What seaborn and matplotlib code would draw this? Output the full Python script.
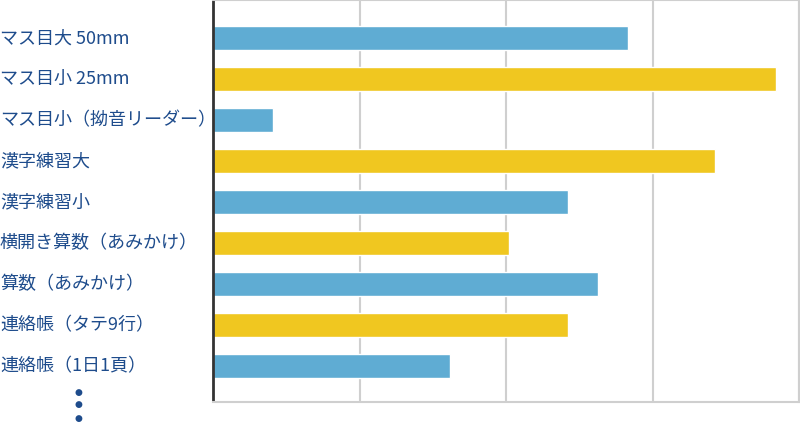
import matplotlib
matplotlib.use("Agg")
import matplotlib.pyplot as plt
import matplotlib.transforms as mtransforms
import seaborn as sns
import pandas as pd

categories = ["マス目大 50mm", "マス目小 25mm", "マス目小（拗音リーダー）", "漢字練習大",
              "漢字練習小", "横開き算数（あみかけ）", "算数（あみかけ）",
              "連絡帳（タテ9行）", "連絡帳（1日1頁）"]
values = [28.3, 38.4, 4.1, 34.3, 24.2, 20.2, 26.3, 24.2, 16.2]
groups = ["a", "b", "a", "b", "a", "b", "a", "b", "a"]
palette = {"a": "#5FACD3", "b": "#F0C720"}
text_color = "#1E4C8C"

sns.set_theme(style="white")
plt.rcParams['font.family'] = ['Noto Sans CJK JP', 'DejaVu Sans']

df = pd.DataFrame({"cat": categories, "val": values, "grp": groups})

fig = plt.figure(figsize=(8, 4.22), dpi=100)
ax = fig.add_axes([213/800, 1 - 402/422, (799-213)/800, 402/422])

sns.barplot(data=df, x="val", y="cat", hue="grp", palette=palette, dodge=False,
            legend=False, width=0.58, ax=ax, saturation=1, orient="h")

ax.set_xlim(0, 40)
ax.set_ylim(8.88, -0.93)
ax.set_xticks([10, 20, 30, 40])
ax.set_xticklabels([])
ax.set_yticks([])
ax.set_xlabel("")
ax.set_ylabel("")
ax.grid(axis="x", color="#cfcfcf", linewidth=1.5)
ax.set_axisbelow(True)
ax.tick_params(length=0)
for s in ["top", "right", "bottom"]:
    ax.spines[s].set_color("#cfcfcf")
    ax.spines[s].set_linewidth(1.5)
ax.spines["left"].set_color("#333333")
ax.spines["left"].set_linewidth(2)
ax.spines["left"].set_capstyle("butt")

trans = mtransforms.blended_transform_factory(fig.transFigure, ax.transData)
for i, c in enumerate(categories):
    ax.text(0.0, i, c, transform=trans, ha="left", va="center",
            fontsize=13, color=text_color, clip_on=False)

for yy in [392, 405, 418]:
    fig.text(78/800, 1 - yy/422, "●", ha="center", va="center",
             fontsize=6.5, color=text_color, family=['DejaVu Sans'])

fig.savefig("out.png", dpi=100)
